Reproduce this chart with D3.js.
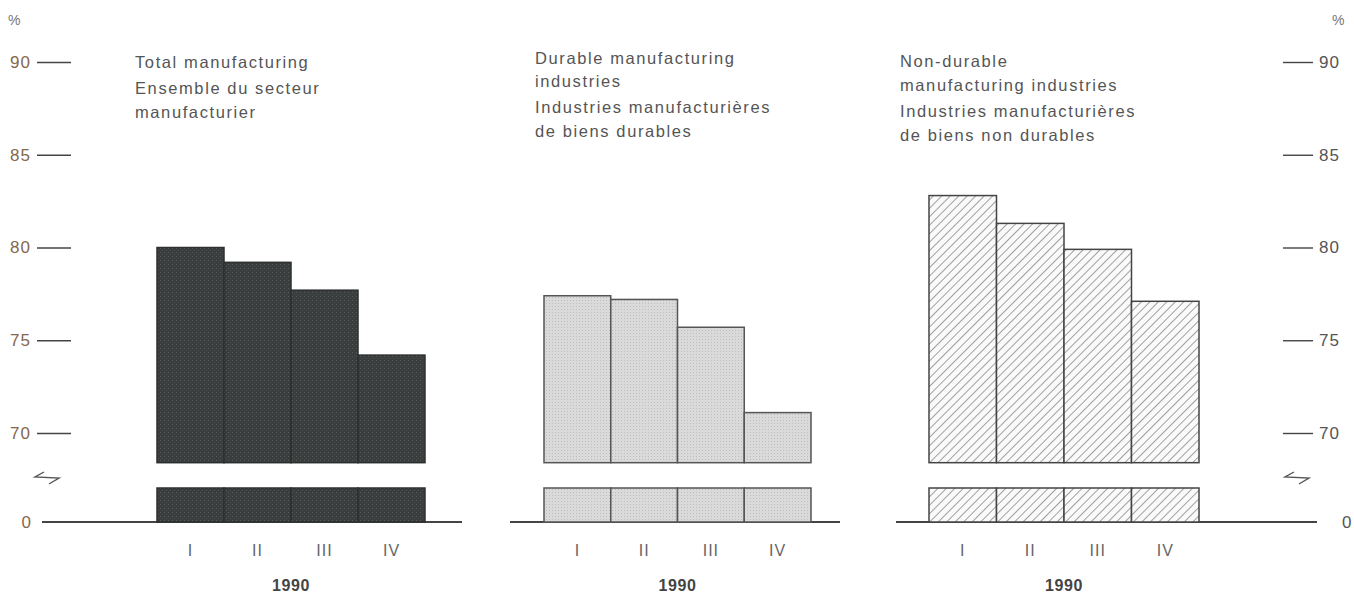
<!DOCTYPE html>
<html><head><meta charset="utf-8">
<script src="https://cdn.jsdelivr.net/npm/d3@7"></script>
<style>
html,body{margin:0;padding:0;background:#fff;}
svg{display:block;font-family:"Liberation Sans",Arial,Helvetica,sans-serif;}
</style></head>
<body>
<svg id="chart" width="1354" height="596"></svg>
<script>
const quarters = ["I","II","III","IV"];
const totalMfg = [80.0, 79.2, 77.7, 74.2];
const durableMfg = [77.4, 77.2, 75.7, 71.1];
const nonDurableMfg = [82.8, 81.3, 79.9, 77.1];
const yTicks = [70, 75, 80, 85, 90];
const yearLabel = "1990";
const titleTotal = ["Total manufacturing", "Ensemble du secteur", "manufacturier"];
const titleDurable = ["Durable manufacturing", "industries", "Industries manufacturières", "de biens durables"];
const titleNonDurable = ["Non-durable", "manufacturing industries", "Industries manufacturières", "de biens non durables"];
const breakValue = 68.4;

const FONT = "Liberation Sans, Arial, sans-serif";
const svg = d3.select("#chart");
const defs = svg.append("defs");

// patterns
const pDark = defs.append("pattern").attr("id","pDark").attr("patternUnits","userSpaceOnUse").attr("width",4).attr("height",4);
pDark.append("rect").attr("width",4).attr("height",4).attr("fill","#3a3d3d");
pDark.append("rect").attr("x",0).attr("y",0).attr("width",1).attr("height",1).attr("fill","#5a5d5c");
pDark.append("rect").attr("x",2).attr("y",2).attr("width",1).attr("height",1).attr("fill","#4c4f4e");

const pLight = defs.append("pattern").attr("id","pLight").attr("patternUnits","userSpaceOnUse").attr("width",3).attr("height",3);
pLight.append("rect").attr("width",3).attr("height",3).attr("fill","#dadada");
pLight.append("rect").attr("x",0).attr("y",0).attr("width",1).attr("height",1).attr("fill","#bdbdbd");

const pHatch = defs.append("pattern").attr("id","pHatch").attr("patternUnits","userSpaceOnUse")
  .attr("width",6).attr("height",6).attr("patternTransform","rotate(45)");
pHatch.append("rect").attr("width",6).attr("height",6).attr("fill","#fafafa");
pHatch.append("line").attr("x1",0).attr("y1",0).attr("x2",0).attr("y2",6).attr("stroke","#555").attr("stroke-width",1.1);

const y = d3.scaleLinear().domain([70, 90]).range([433, 62]);
const yLow = d3.scaleLinear().domain([0, breakValue]).range([522, 488]);

const axisColor = "#444";
const labelColor = "#86674c";

// left axis
const leftAxis = svg.append("g").attr("transform","translate(71,0)")
  .call(d3.axisLeft(y).tickValues(yTicks).tickSize(34).tickPadding(6));
leftAxis.select(".domain").remove();
leftAxis.selectAll(".tick line").attr("stroke",axisColor).attr("stroke-width",1.4);
leftAxis.selectAll(".tick text").attr("fill",labelColor).attr("font-size",17)
  .attr("letter-spacing","1px").attr("font-family",FONT);

const rightAxis = svg.append("g").attr("transform","translate(1283,0)")
  .call(d3.axisRight(y).tickValues(yTicks).tickSize(30).tickPadding(6));
rightAxis.select(".domain").remove();
rightAxis.selectAll(".tick line").attr("stroke",axisColor).attr("stroke-width",1.4);
rightAxis.selectAll(".tick text").attr("fill","#555").attr("font-size",17)
  .attr("letter-spacing","1px").attr("font-family",FONT);

// zero labels
svg.append("text").attr("x",31).attr("y",yLow(0)).attr("dy","0.35em").attr("text-anchor","end")
  .attr("fill",labelColor).attr("font-size",17).text("0");
svg.append("text").attr("x",1342).attr("y",yLow(0)).attr("dy","0.35em").attr("text-anchor","start")
  .attr("fill","#555").attr("font-size",17).text("0");
// percent signs
svg.append("text").attr("x",8).attr("y",25).attr("fill","#777").attr("font-size",14).text("%");
svg.append("text").attr("x",1332).attr("y",25).attr("fill","#777").attr("font-size",14).text("%");

// break symbols
function breakSym(cx, cy){
  svg.append("path").attr("d",`M${cx-3},${cy-7} L${cx-12},${cy-2} L${cx+12},${cy-1} L${cx+2},${cy+5}`)
    .attr("fill","none").attr("stroke","#555").attr("stroke-width",1.4).attr("stroke-linejoin","miter");
}
breakSym(47, 479);
breakSym(1297, 479);

function panel(values, titles, x0, x1, base0, base1, fill, stroke, titleX, titleY, titleGaps){
  const x = d3.scaleBand().domain(quarters).range([x0, x1]).padding(0);
  const g = svg.append("g");
  // baseline
  g.append("line").attr("x1",base0).attr("x2",base1).attr("y1",yLow(0)).attr("y2",yLow(0))
    .attr("stroke","#444").attr("stroke-width",1.8);
  // upper bars
  g.selectAll("rect.up").data(values).join("rect").attr("class","up")
    .attr("x",(d,i)=>x(quarters[i])).attr("width",x.bandwidth())
    .attr("y",d=>y(d)).attr("height",d=>y(breakValue)-y(d))
    .attr("fill",fill).attr("stroke",stroke).attr("stroke-width",1.5);
  // lower stubs
  g.selectAll("rect.low").data(values).join("rect").attr("class","low")
    .attr("x",(d,i)=>x(quarters[i])).attr("width",x.bandwidth())
    .attr("y",yLow(breakValue)).attr("height",yLow(0)-yLow(breakValue))
    .attr("fill",fill).attr("stroke",stroke).attr("stroke-width",1.5);
  // x axis labels
  const xa = g.append("g").attr("transform",`translate(0,${yLow(0)})`)
    .call(d3.axisBottom(x).tickSize(0).tickPadding(23));
  xa.select(".domain").remove();
  xa.selectAll(".tick text").attr("fill","#666").attr("font-size",16).attr("letter-spacing","1px")
    .attr("font-family",FONT);
  g.append("text").attr("x",(x0+x1)/2).attr("y",591).attr("text-anchor","middle")
    .attr("font-weight","bold").attr("font-size",16).attr("letter-spacing","0.6px")
    .attr("fill","#444").text(yearLabel);
  // titles
  let ty = titleY;
  titles.forEach((t,i)=>{
    g.append("text").attr("x",titleX).attr("y",ty).attr("font-size",16.5)
      .attr("letter-spacing","1.6px").attr("fill","#555").text(t);
    ty += titleGaps[i] || 0;
  });
}

panel(totalMfg, titleTotal, 157, 425, 42, 462, "url(#pDark)", "#2e3030", 135, 68, [26,24]);
panel(durableMfg, titleDurable, 544, 811, 510, 840, "url(#pLight)", "#555", 535, 64, [23,26,24]);
panel(nonDurableMfg, titleNonDurable, 929, 1199, 896, 1317, "url(#pHatch)", "#444", 900, 67, [24,26,24]);
</script>
</body></html>
